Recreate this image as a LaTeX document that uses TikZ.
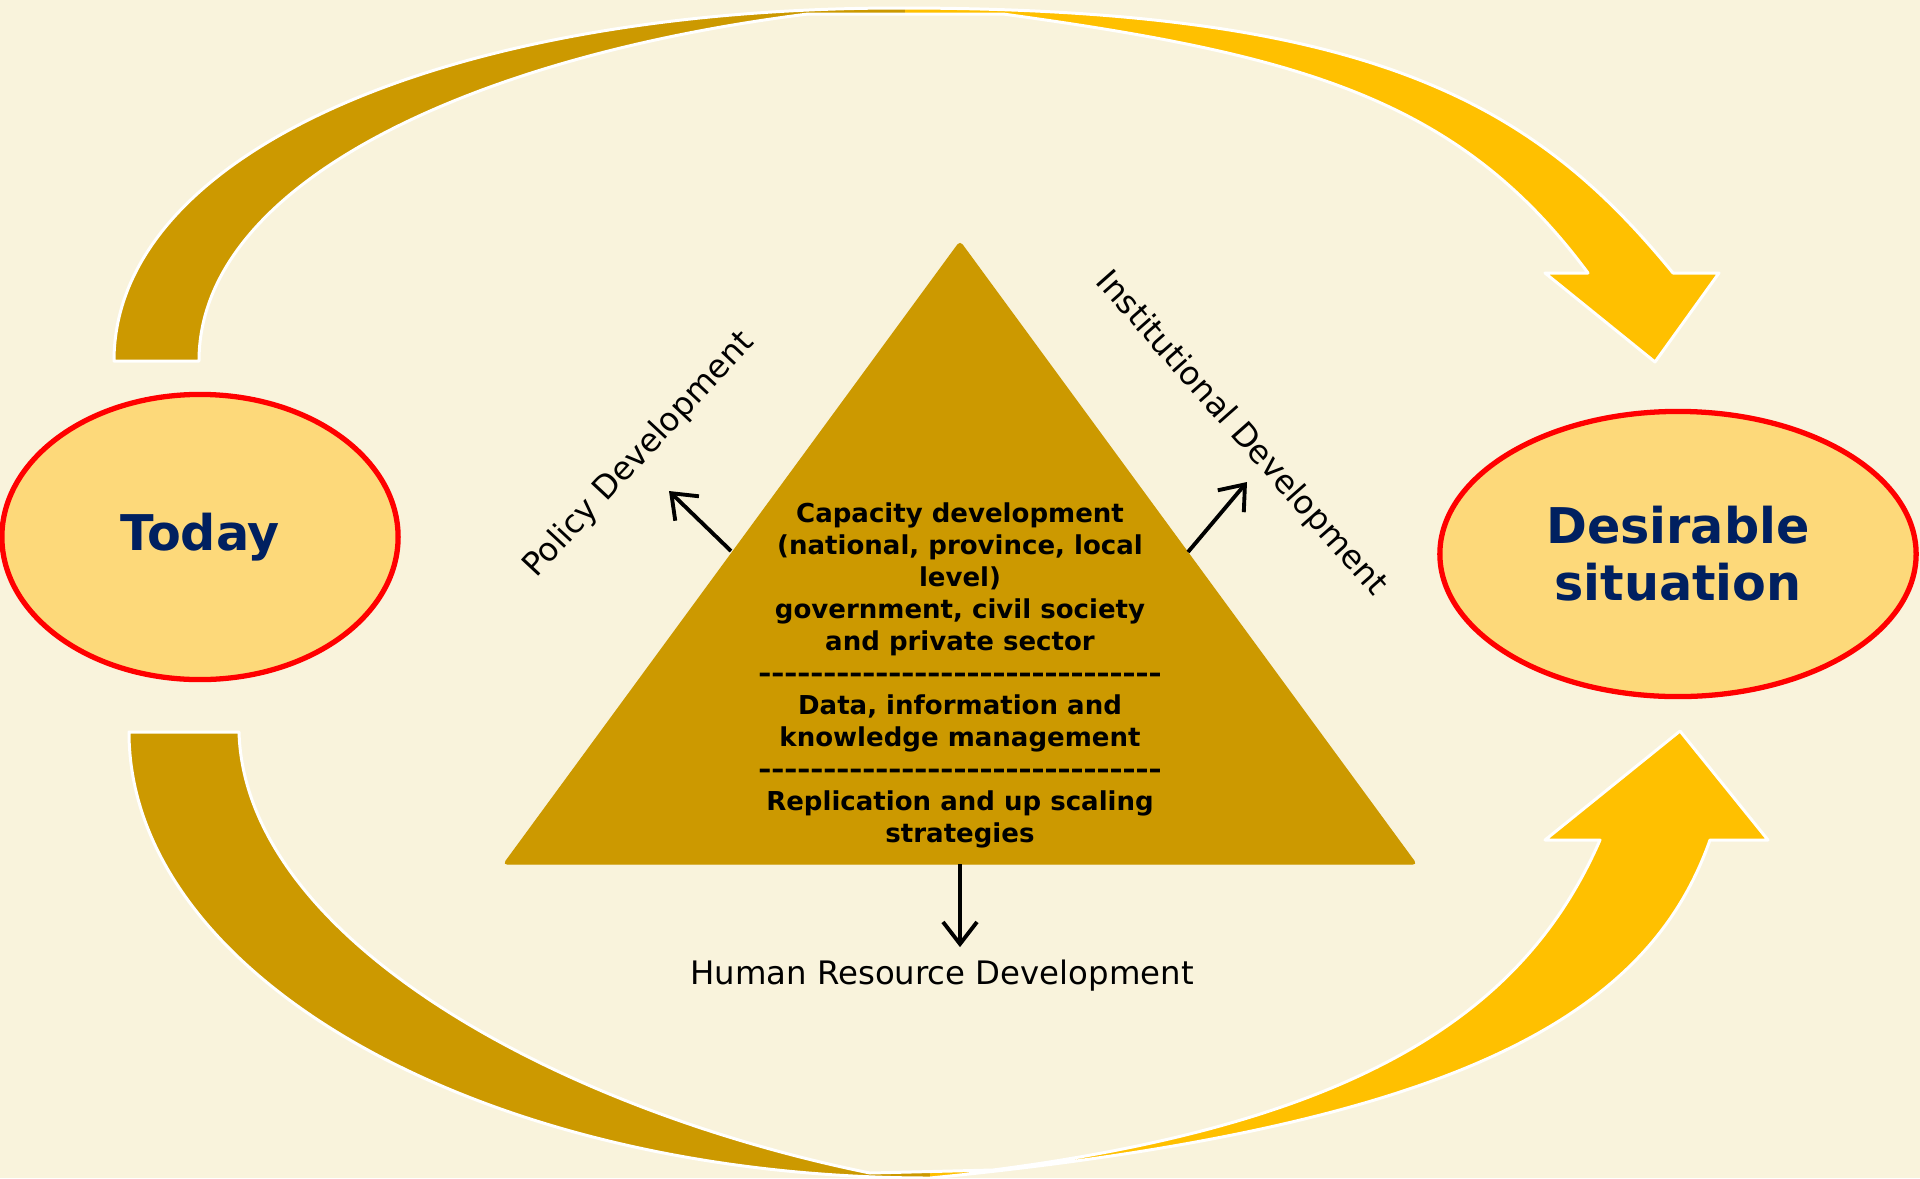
\documentclass[tikz,border=0pt]{standalone}
\usepackage{fontspec}
\setmainfont{DejaVu Sans}
\usetikzlibrary{shapes.geometric,arrows.meta}

\definecolor{bgcream}{RGB}{249,243,220}
\definecolor{darkgold}{RGB}{204,153,0}
\definecolor{brightgold}{RGB}{255,192,0}
\definecolor{ovalfill}{RGB}{253,217,122}
\definecolor{navy}{RGB}{0,32,96}

\newcommand{\dashrow}{\foreach \k in {1,...,31}{\makebox[0.13cm]{\scalebox{1.25}[1]{-}}}}

\tikzset{
  oval/.style={ellipse, draw=red, line width=1.5pt, fill=ovalfill, text=navy,
    font=\fontsize{14}{16.2}\selectfont\bfseries, align=center, inner sep=0pt},
  band/.style={draw=white, line width=0.85pt, line join=round, fill=brightgold},
  sidelabel/.style={font=\fontsize{9.2}{11}\selectfont, inner sep=1pt},
  smallarrow/.style={-{Straight Barb[length=2.2mm,width=3.4mm]}, line width=1.1pt},
}

\begin{document}
\begin{tikzpicture}[x=0.01cm,y=-0.01cm]
	\fill[bgcream] (0,0) rectangle (1920,1178);
	\useasboundingbox (0,0) rectangle (1920,1178);

	% upper curved arrow, dark on the left, bright on the right
	\filldraw[band, path picture={\fill[darkgold] (0,0) rectangle (905,400);}]
		(114,361) .. controls (114,154) and (444,8) .. (900,8)
		.. controls (1380,8) and (1538,108) .. (1673,273)
		-- (1719,273) -- (1655,362) -- (1545,273) -- (1588,273)
		.. controls (1460,100) and (1303,55) .. (1003,14) -- (808,14)
		.. controls (480,55) and (199,180) .. (199,361) -- cycle;

	% lower curved arrow
	\filldraw[band, path picture={\fill[darkgold] (0,600) rectangle (930,1178);}]
		(129,732) .. controls (129,975) and (480,1178) .. (930,1178)
		.. controls (1470,1125) and (1650,1010) .. (1710,840)
		-- (1768,840) -- (1680,731) -- (1545,840) -- (1600,840)
		.. controls (1530,1000) and (1380,1120) .. (993,1170) -- (870,1173)
		.. controls (560,1110) and (245,940) .. (239,732) -- cycle;

	\node[oval, minimum width=3.96cm, minimum height=2.85cm] (today) at (200,537) {Today};
	\node[oval, minimum width=4.76cm, minimum height=2.85cm] (desirable) at (1678,554) {Desirable\\situation};

	% pyramid
	\filldraw[darkgold, rounded corners=1pt] (960,242) -- (1416,864) -- (504,864) -- cycle;
	\node[font=\fontsize{7.4}{9.1}\selectfont\bfseries, align=center] (capacity) at (960,675)
		{Capacity development\\(national, province, local\\level)\\government, civil society\\and private sector\\
		\dashrow\\Data, information and\\knowledge management\\\dashrow\\Replication and up scaling\\strategies};

	\node[sidelabel, rotate=47] (policy) at (639,455) {Policy Development};
	\node[sidelabel, rotate=-48.5] (institutional) at (1241,434) {Institutional Development};
	\node[sidelabel] (human) at (942,976) {Human Resource Development};

	\coordinate (pfoot) at (731,551);
	\coordinate (ptip) at (669,491);
	\coordinate (ifoot) at (1188,552);
	\coordinate (itip) at (1247,482);
	\coordinate (hfoot) at (960,864);

	\draw[smallarrow] (pfoot) -- (ptip);
	\draw[smallarrow] (ifoot) -- (itip);
	\draw[smallarrow, shorten >=0.09cm] (hfoot) -- (hfoot |- human.north);
\end{tikzpicture}
\end{document}
